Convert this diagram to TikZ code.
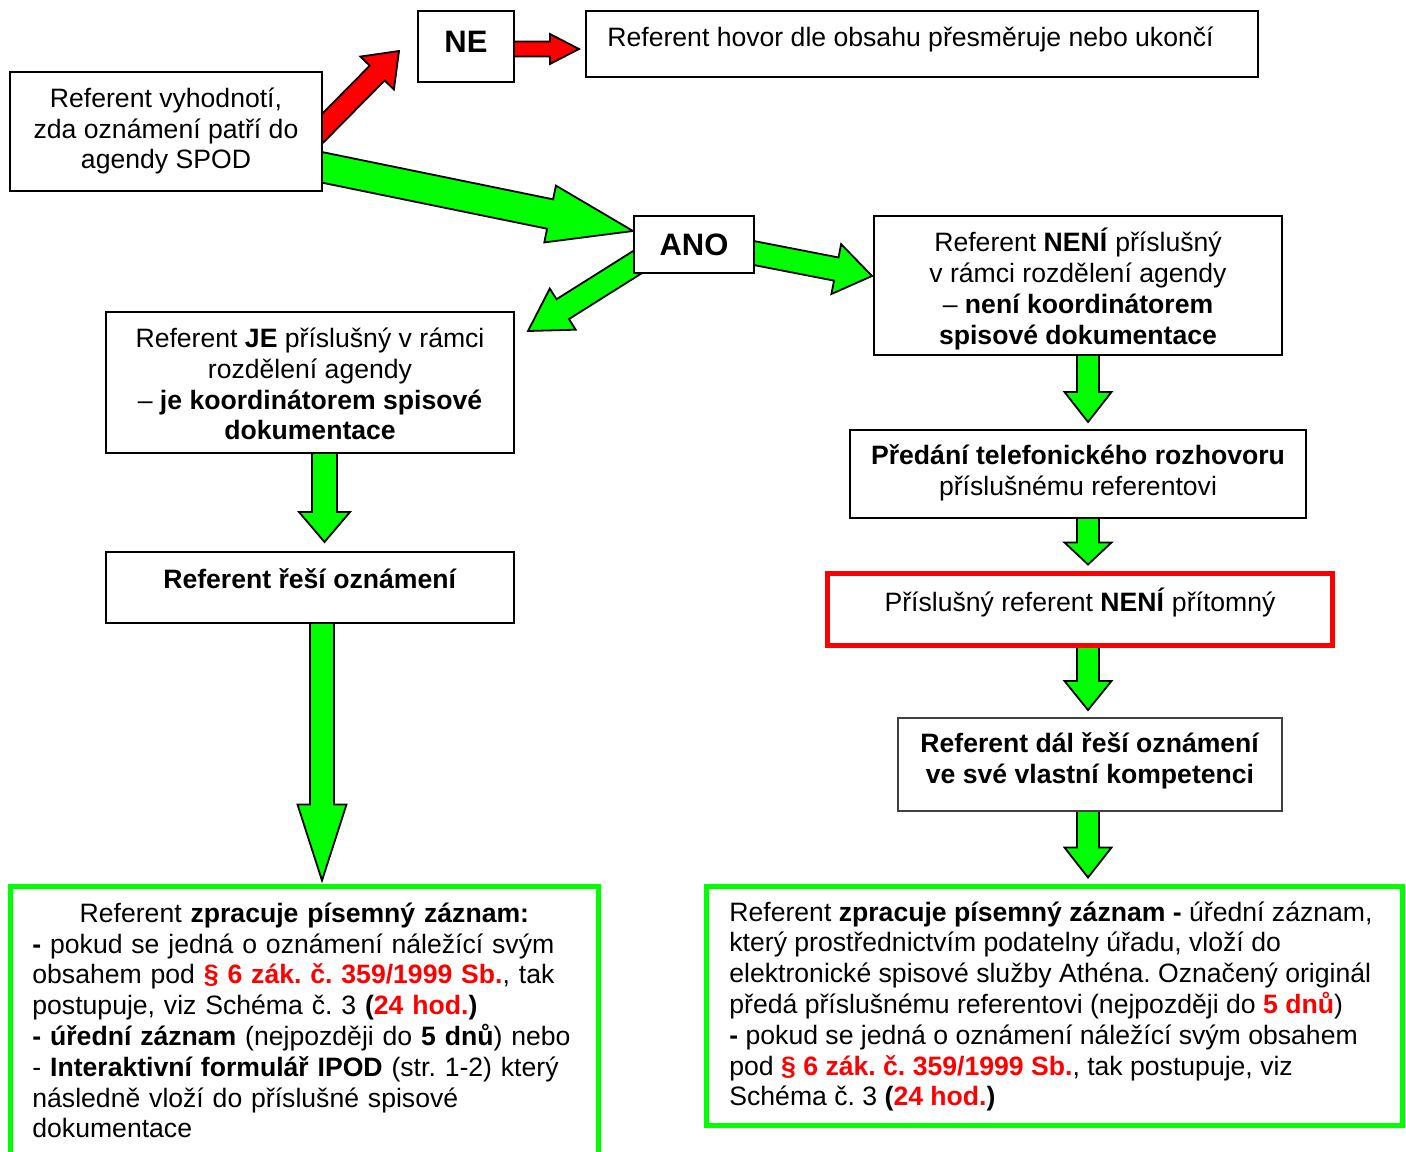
\documentclass[tikz,border=0pt]{standalone}
\usepackage{fontspec}
\setmainfont{Liberation Sans}
\usetikzlibrary{calc}
\pgfdeclarelayer{bg}
\pgfsetlayers{bg,main}
\definecolor{myred}{RGB}{255,0,0}
\definecolor{mygreen}{RGB}{0,255,0}
\newcommand{\rb}[1]{\textcolor{myred}{\textbf{#1}}}
% block arrow: #1 fill, #2 start, #3 tip, #4 shaft half width (pt), #5 head half width (pt), #6 head length (pt)
\newcommand{\blkarrow}[6]{%
  \draw[arr, fill=#1] let \p1=(#2), \p2=(#3),
    \n1={atan2(\y2-\y1,\x2-\x1)}, \n2={veclen(\x2-\x1,\y2-\y1)-#6}
    in ({\x1-#4*sin(\n1)},{\y1+#4*cos(\n1)})
    -- ({\x1+\n2*cos(\n1)-#4*sin(\n1)},{\y1+\n2*sin(\n1)+#4*cos(\n1)})
    -- ({\x1+\n2*cos(\n1)-#5*sin(\n1)},{\y1+\n2*sin(\n1)+#5*cos(\n1)})
    -- (\p2)
    -- ({\x1+\n2*cos(\n1)+#5*sin(\n1)},{\y1+\n2*sin(\n1)-#5*cos(\n1)})
    -- ({\x1+\n2*cos(\n1)+#4*sin(\n1)},{\y1+\n2*sin(\n1)-#4*cos(\n1)})
    -- ({\x1+#4*sin(\n1)},{\y1-#4*cos(\n1)}) -- cycle;}
\tikzset{
  box/.style={draw, line width=1pt, fill=white, inner sep=0pt, rectangle},
  gbox/.style={draw=mygreen, line width=2.5pt, fill=white, inner sep=0pt, rectangle},
  rbox/.style={draw=myred, line width=2.5pt, fill=white, inner sep=0pt, rectangle},
  txt/.style={font=\fontsize{13.3}{15.4}\selectfont\frenchspacing, inner sep=0pt, align=center},
  big/.style={font=\fontsize{15.5}{18}\selectfont\bfseries, inner sep=0pt},
  arr/.style={draw=black, line width=0.9pt, line join=miter}
}
\begin{document}
\begin{tikzpicture}[x=0.5pt,y=-0.5pt]
\useasboundingbox (0,0) rectangle (1406,1151);
\clip (0,0) rectangle (1406,1151);
\begin{pgfonlayer}{bg}
\fill[white] (0,0) rectangle (1406,1151);
\end{pgfonlayer}

% boxes
\node[box, minimum width=156pt, minimum height=59.5pt] (A) at (166,131.5) {};
\node[box, minimum width=48pt, minimum height=35.5pt] (ne) at (466,46.5) {};
\node[box, minimum width=336pt, minimum height=33pt] (hovor) at (922,44) {};
\node[box, minimum width=60pt, minimum height=28.5pt] (ano) at (694,244.5) {};
\node[box, minimum width=204pt, minimum height=69.5pt] (neni) at (1078,285.5) {};
\node[box, minimum width=204pt, minimum height=70.5pt] (je) at (310,382.5) {};
\node[box, minimum width=204pt, minimum height=35.5pt] (resi) at (310,587.5) {};
\node[box, minimum width=228pt, minimum height=44pt] (pred) at (1078,474) {};
\node[rbox, minimum width=252.5pt, minimum height=36pt] (nepr) at (1079.5,609) {};
\node[box, draw=black!75, minimum width=192pt, minimum height=46.5pt] (dal) at (1090,764) {};
\node[gbox, minimum width=294pt, minimum height=144.5pt] (gl) at (304,1030.5) {};
\node[gbox, minimum width=348pt, minimum height=119.5pt] (gr) at (1054,1005.5) {};

% texts
\node[txt] (A-t) at (166,131) {Referent vyhodnotí,\\zda oznámení patří do\\agendy SPOD};
\node[big] (ne-t) at (466,42) {NE};
\node[txt, anchor=west] (hovor-t) at (607,39) {Referent hovor dle obsahu přesměruje nebo ukončí};
\node[big] (ano-t) at (694,245) {ANO};
\node[txt] (neni-t) at (1078,289) {Referent \textbf{NENÍ} příslušný\\v rámci rozdělení agendy\\– \textbf{není koordinátorem}\\\textbf{spisové dokumentace}};
\node[txt] (je-t) at (310,384) {Referent \textbf{JE} příslušný v rámci\\rozdělení agendy\\– \textbf{je koordinátorem spisové}\\\textbf{dokumentace}};
\node[txt] (resi-t) at (310,579) {\textbf{Referent řeší oznámení}};
\node[txt] (pred-t) at (1078,473) {\textbf{Předání telefonického rozhovoru}\\příslušnému referentovi};
\node[txt] (nepr-t) at (1080,602) {Příslušný referent \textbf{NENÍ} přítomný};
\node[txt] (dal-t) at (1090,761) {\textbf{Referent dál řeší oznámení}\\\textbf{ve své vlastní kompetenci}};
\node[txt, align=left, text width=290pt, anchor=west] (gl-t) at (32,1020.5) {\makebox[272pt]{Referent \textbf{zpracuje písemný záznam:}}\\
\textbf{-} pokud se jedná o oznámení náležící svým\\
obsahem pod \rb{§ 6 zák. č. 359/1999 Sb.}, tak\\
postupuje, viz Schéma č. 3 \textbf{(}\rb{24 hod.}\textbf{)}\\
\textbf{- úřední záznam} (nejpozději do \textbf{5 dnů}) nebo\\
- \textbf{Interaktivní formulář IPOD} (str. 1-2) který\\
následně vloží do příslušné spisové\\
dokumentace};
\node[txt, align=left, anchor=west] (gr-t) at (729,1006.5) {Referent \textbf{zpracuje písemný záznam -} úřední záznam,\\
který prostřednictvím podatelny úřadu, vloží do\\
elektronické spisové služby Athéna. Označený originál\\
předá příslušnému referentovi (nejpozději do \rb{5 dnů})\\
\textbf{-} pokud se jedná o oznámení náležící svým obsahem\\
pod \rb{§ 6 zák. č. 359/1999 Sb.}, tak postupuje, viz\\
Schéma č. 3 \textbf{(}\rb{24 hod.}\textbf{)}};

% connectors
\begin{pgfonlayer}{bg}
\blkarrow{myred}{$(A.east)+(-7,3.5)$}{$(ne.west)+(-18,4.5)$}{5.25}{11.75}{15.5}
\blkarrow{myred}{$(ne.east)+(-6,2.5)$}{$(hovor.west)+(-6,5)$}{3.75}{7.5}{14.5}
\blkarrow{mygreen}{$(A.east)+(-10,34)$}{$(ano.west)+(0,-13.5)$}{7.5}{14.5}{42.3}
\blkarrow{mygreen}{$(ano.west)+(11,13.5)$}{$(je.north east)+(13,20)$}{5.85}{12.15}{20.5}
\blkarrow{mygreen}{$(ano.east)+(-9,7)$}{$(neni.west)+(-1,-9.5)$}{5.9}{12.7}{18.2}
\blkarrow{mygreen}{$(neni.south)+(10,-5)$}{$(pred.north)+(10,-7)$}{5.5}{11.75}{15}
\blkarrow{mygreen}{$(pred.south)+(10,-4)$}{$(nepr.north)+(8.5,-6)$}{5.5}{11.75}{11}
\blkarrow{mygreen}{$(nepr.south)+(8.5,-3)$}{$(dal.north)+(-2,-6.5)$}{5.5}{11.75}{14.5}
\blkarrow{mygreen}{$(dal.south)+(-2,-4)$}{$(gr.north)+(34,-6)$}{5.5}{11.75}{15}
\blkarrow{mygreen}{$(je.south)+(14.5,-4)$}{$(resi.north)+(14.5,-9)$}{6.25}{12.75}{15}
\blkarrow{mygreen}{$(resi.south)+(12,-3)$}{$(gl.north)+(18,-3)$}{6}{12.25}{38}
\end{pgfonlayer}
\end{tikzpicture}
\end{document}
